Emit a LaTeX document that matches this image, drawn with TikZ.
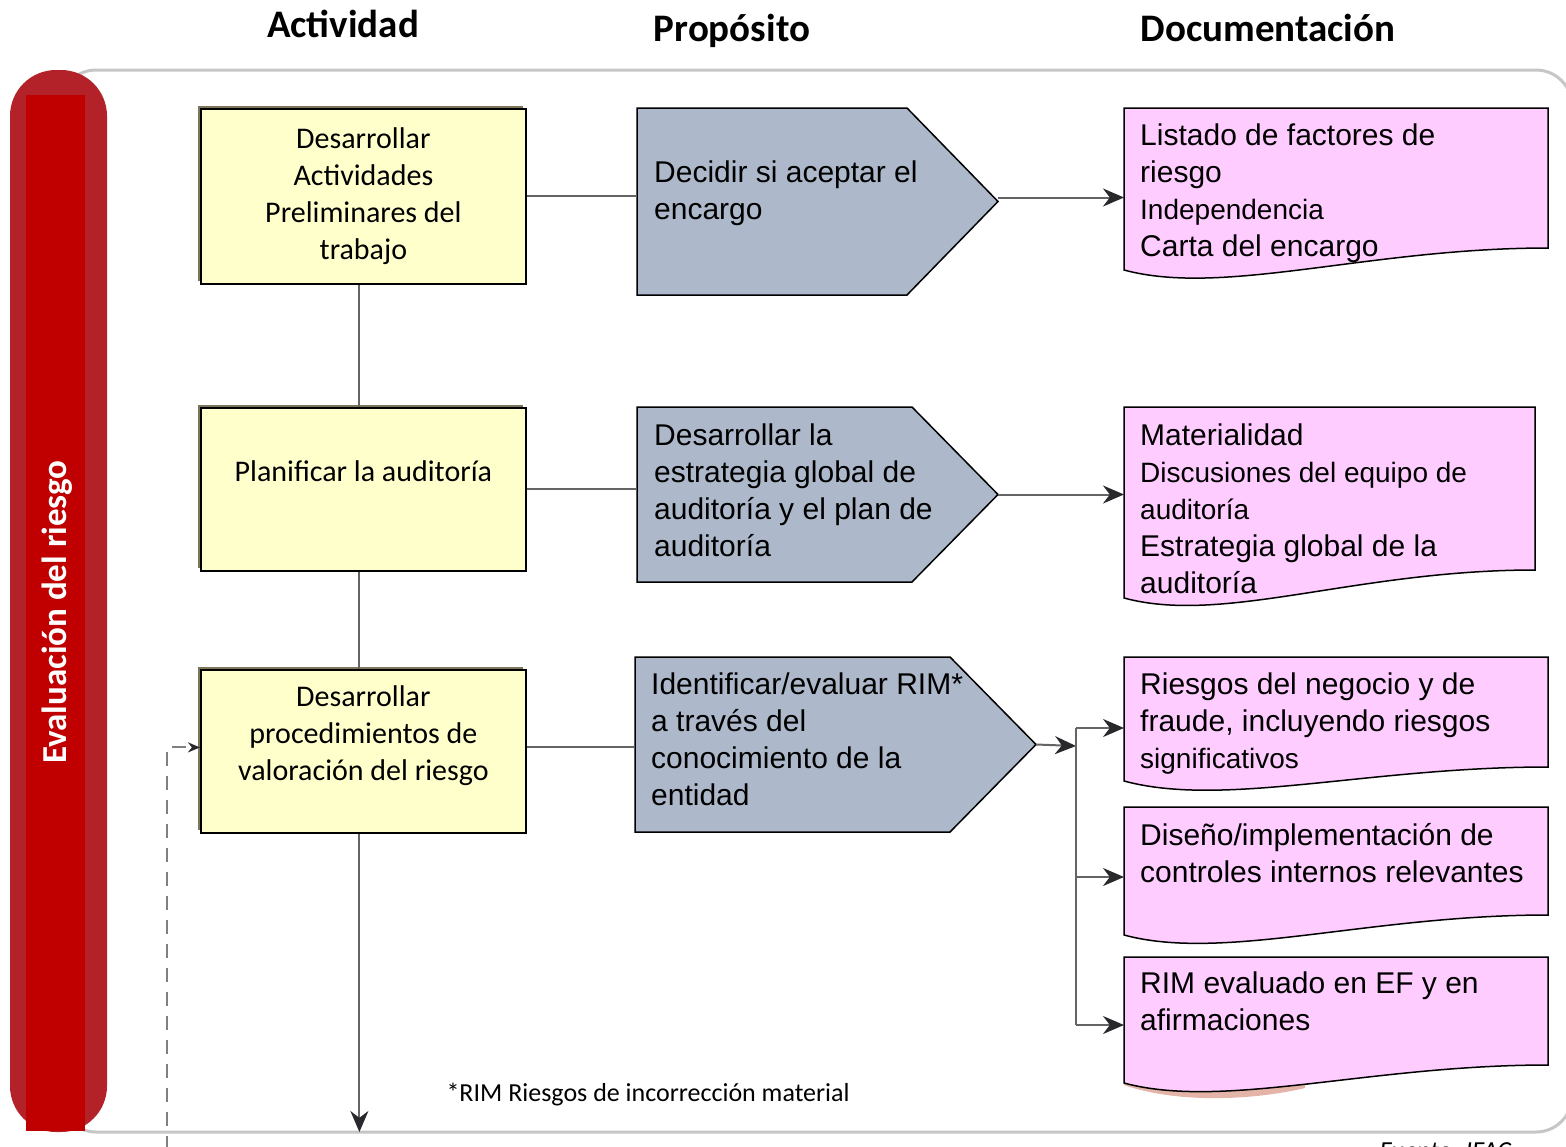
\documentclass[tikz,border=0pt]{standalone}
\usepackage{fontspec}
\setmainfont{Carlito}
\newfontfamily\arial{Liberation Sans}
\usetikzlibrary{arrows.meta,shadows}

\definecolor{amarillo}{RGB}{255,255,204}
\definecolor{grisazul}{RGB}{173,185,202}
\definecolor{rosa}{RGB}{255,204,255}
\definecolor{rojo}{RGB}{192,0,0}
\definecolor{rojoborde}{RGB}{178,34,40}
\definecolor{salmon}{RGB}{228,180,168}
\definecolor{sombra}{RGB}{125,117,92}
\definecolor{linea}{RGB}{100,100,100}
\definecolor{punta}{RGB}{40,40,45}

\begin{document}
\begin{tikzpicture}[
        x=1pt, y=1pt,
        titulo/.style={anchor=base, font=\bfseries\fontsize{39}{45}\selectfont},
        actividad/.style={draw=black, line width=1.8pt, fill=amarillo, anchor=north west,
            minimum width=325, align=center, font=\fontsize{30}{37}\selectfont,
            general shadow={fill=sombra, shadow xshift=-3pt, shadow yshift=3pt}},
        hueco/.style={anchor=north west, inner sep=0, outer sep=0},
        texto/.style={anchor=north west, inner sep=0, align=left, font=\arial\fontsize{30}{37}\selectfont},
        enlace/.style={draw=linea, line width=2pt},
        flecha/.style={draw=linea, line width=2pt, -{Stealth[length=21pt, width=18pt, color=punta]}}
    ]
    \useasboundingbox (0,0) rectangle (1566,-1146);

    % Marco de la hoja
    \draw[gray!45, line width=3pt, rounded corners=36] (60,-70) rectangle (1572,-1132);

    % Barra roja
    \fill[rojoborde, rounded corners=46] (10,-70) rectangle (107,-1132);
    \fill[rojo] (26,-95) rectangle (85,-1131);
    \node[rotate=90, text=white, font=\bfseries\fontsize{35}{42}\selectfont]
        (eje) at (57,-612) {Evaluación del riesgo};

    % Encabezados
    \node[titulo] (h1) at (343,-37) {Actividad};
    \node[titulo] (h2) at (732,-41) {Propósito};
    \node[titulo] (h3) at (1268,-41) {Documentación};

    % Actividades
    \node[actividad, minimum height=175] (b1) at (200,-108)
        {Desarrollar\\Actividades\\Preliminares del\\trabajo};
    \node[actividad, minimum height=163] (b2) at (200,-407)
        {Planificar la auditoría\\ \mbox{}};
    \node[actividad, minimum height=163] (b3) at (200,-669)
        {Desarrollar\\procedimientos de\\valoración del riesgo\\ \mbox{}};

    % Propósitos
    \node[hueco, minimum width=361, minimum height=187] (g1) at (637,-108) {};
    \node[hueco, minimum width=361, minimum height=175] (g2) at (637,-407) {};
    \node[hueco, minimum width=401, minimum height=175] (g3) at (635,-657) {};
    \foreach \g/\p in {g1/91, g2/86, g3/86}
        \draw[fill=grisazul, line width=1.5pt]
            (\g.north west) -- ([xshift=-\p pt]\g.north east) -- (\g.east)
            -- ([xshift=-\p pt]\g.south east) -- (\g.south west) -- cycle;
    \node[texto] (g1t) at (654,-161) {Decidir si aceptar el\\encargo};
    \node[texto] (g2t) at (654,-424)
        {Desarrollar la\\estrategia global de\\auditoría y el plan de\\auditoría};
    \node[texto] (g3t) at (651,-673)
        {Identificar/evaluar RIM*\\a través del\\conocimiento de la\\entidad};

    % Documentación
    \node[hueco, minimum width=424, minimum height=140] (d1) at (1124,-108) {};
    \node[hueco, minimum width=411, minimum height=163] (d2) at (1124,-407) {};
    \node[hueco, minimum width=424, minimum height=110] (d3) at (1124,-657) {};
    \node[hueco, minimum width=424, minimum height=108] (d4) at (1124,-807) {};
    \node[hueco, minimum width=424, minimum height=108] (d5) at (1124,-957) {};
    \fill[salmon] (1124,-1070) -- (1124,-1085) .. controls (1175,-1103) and (1250,-1101) ..
        (1305,-1088) -- (1305,-1070) -- cycle;
    \foreach \d/\c in {d1/22, d2/28, d3/14, d4/20, d5/18}
        \draw[fill=rosa, line width=1.5pt]
            (\d.south east) -- (\d.north east) -- (\d.north west) -- ([yshift=-\c pt]\d.south west)
            .. controls +(100,-27) and +(-180,0) .. (\d.south east) -- cycle;
    \node[texto] (d1t) at (1140,-124)
        {Listado de factores de\\riesgo\\{\fontsize{28}{37}\selectfont Independencia}\\Carta del encargo};
    \node[texto] (d2t) at (1140,-424)
        {Materialidad\\{\fontsize{28}{37}\selectfont Discusiones del equipo de}\\{\fontsize{28}{37}\selectfont auditoría}\\Estrategia global de la\\auditoría};
    \node[texto] (d3t) at (1140,-673)
        {Riesgos del negocio y de\\fraude, incluyendo riesgos\\{\fontsize{28}{37}\selectfont significativos}};
    \node[texto] (d4t) at (1140,-823) {Diseño/implementación de\\controles internos relevantes};
    \node[texto] (d5t) at (1140,-972) {RIM evaluado en EF y en\\afirmaciones};

    % Conexiones
    \draw[enlace] ([xshift=-4pt]b1.south) -- ([xshift=-4pt]b2.north);
    \draw[enlace] ([xshift=-4pt]b2.south) -- ([xshift=-4pt]b3.north);
    \draw[enlace] (b1.east) -- (b1.east -| g1.west);
    \draw[enlace] (b2.east) -- (b2.east -| g2.west);
    \draw[enlace] ([yshift=4pt]b3.east) -- ([yshift=4pt]b3.east -| g3.west);
    \draw[flecha] ([yshift=4pt]g1.east) -- ([yshift=4pt]g1.east -| d1.west);
    \draw[flecha] (g2.east) -- (g2.east -| d2.west);

    \coordinate (j) at (1076,-746);
    \draw[flecha] (g3.east) -- (j);
    \draw[enlace] ([yshift=-16pt]d3.west -| j) -- ([yshift=-14pt]d5.west -| j);
    \foreach \d/\s in {d3/16, d4/16, d5/14}
        \draw[flecha] ([yshift=-\s pt]\d.west -| j) -- ([yshift=-\s pt]\d.west);

    \coordinate (fin) at ([xshift=-4pt]b3.south |- 0,-1132);
    \draw[flecha] ([xshift=-4pt]b3.south) -- (fin);

    % Retroalimentacion
    \coordinate (retro) at (167,-1150);
    \draw[gray, line width=2pt, dash pattern=on 14pt off 10pt,
        -{Stealth[length=12pt, width=10pt, color=punta]}] (retro) |- ([yshift=4pt]b3.west);

    % Notas
    \node[anchor=base west, font=\fontsize{26}{30}\selectfont]
        (nota) at (443,-1101) {*RIM Riesgos de incorrección material};
    \node[anchor=base west, font=\itshape\fontsize{26}{30}\selectfont]
        (fuente) at (1376,-1159) {Fuente: IFAC};

\end{tikzpicture}
\end{document}
